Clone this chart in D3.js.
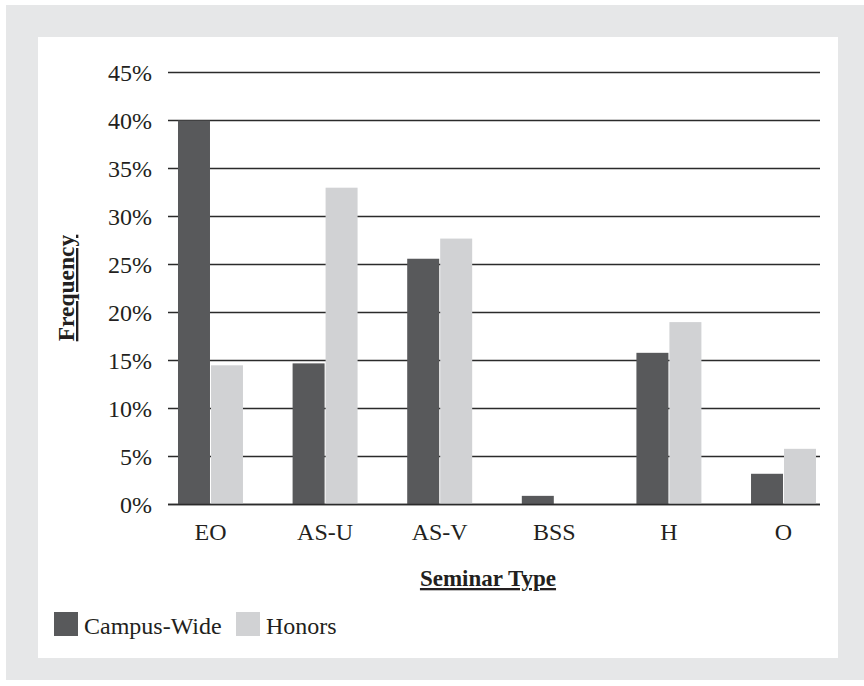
<!DOCTYPE html>
<html>
<head>
<meta charset="utf-8">
<script src="https://cdn.jsdelivr.net/npm/d3@7"></script>
<style>
  body { margin: 0; background: #fff; }
  text { font-family: "Liberation Serif", "DejaVu Serif", serif; fill: #231f20; }
</style>
</head>
<body>
<div id="chart"></div>
<script>
// seminar types on the x axis
var categories = ["EO", "AS-U", "AS-V", "BSS", "H", "O"];
var seriesNames = ["Campus-Wide", "Honors"];
var campusWide = [40.0, 14.7, 25.6, 0.9, 15.8, 3.2];
var honors = [14.5, 33.0, 27.7, 0, 19.0, 5.8];
var yTicks = [0, 5, 10, 15, 20, 25, 30, 35, 40, 45];
var colors = ["#58595b", "#d1d2d4"];

var svg = d3.select("#chart").append("svg")
  .attr("width", 864)
  .attr("height", 686);

// grey frame + white panel
svg.append("rect").attr("x", 6).attr("y", 5).attr("width", 858).attr("height", 675).attr("fill", "#e6e7e8");
svg.append("rect").attr("x", 38).attr("y", 37).attr("width", 800).attr("height", 621).attr("fill", "#fff");

var y = d3.scaleLinear().domain([0, 45]).range([504.5, 72.5]);

var x = d3.scaleBand()
  .domain(categories)
  .range([171, 823])
  .paddingInner(0.433)
  .paddingOuter(0.061);

var x1 = d3.scaleBand()
  .domain(seriesNames)
  .range([0, x.bandwidth()])
  .paddingInner(0.03);

//gridlines
svg.append("g").selectAll("line")
  .data(yTicks)
  .join("line")
  .attr("x1", 168).attr("x2", 820)
  .attr("y1", d => y(d)).attr("y2", d => y(d))
  .attr("stroke", "#2b2b2b")
  .attr("stroke-width", 1.5);

// y tick labels
svg.append("g").selectAll("text")
  .data(yTicks)
  .join("text")
  .attr("x", 152)
  .attr("y", d => y(d) + 8)
  .attr("text-anchor", "end")
  .style("font-size", "24px")
  .text(d => d + "%");

var rows = categories.map(function(c, i) {
  return [{cat: c, s: seriesNames[0], v: campusWide[i]}, {cat: c, s: seriesNames[1], v: honors[i]}];
});

svg.append("g").selectAll("g")
  .data(rows)
  .join("g")
  .attr("transform", d => "translate(" + x(d[0].cat) + ",0)")
  .selectAll("rect")
  .data(d => d)
  .join("rect")
  .attr("x", d => x1(d.s))
  .attr("width", x1.bandwidth())
  .attr("y", d => y(d.v))
  .attr("height", d => y(0) - y(d.v))
  .attr("fill", d => colors[seriesNames.indexOf(d.s)]);

// redraw base line on top
svg.append("line")
  .attr("x1", 168).attr("x2", 820)
  .attr("y1", y(0)).attr("y2", y(0))
  .attr("stroke", "#2b2b2b").attr("stroke-width", 1.5);

// category labels
svg.append("g").selectAll("text")
  .data(categories)
  .join("text")
  .attr("x", d => x(d) + x.bandwidth() / 2)
  .attr("y", 540)
  .attr("text-anchor", "middle")
  .style("font-size", "24px")
  .text(d => d);

// axis titles
svg.append("text")
  .attr("x", 488).attr("y", 586)
  .attr("text-anchor", "middle")
  .style("font-size", "23px")
  .style("font-weight", "bold")
  .style("text-decoration", "underline")
  .text("Seminar Type");

svg.append("text")
  .attr("transform", "translate(74,288) rotate(-90)")
  .attr("text-anchor", "middle")
  .style("font-size", "23.5px")
  .style("font-weight", "bold")
  .style("text-decoration", "underline")
  .text("Frequency");

// legend
var legX = [54, 236];
var leg = svg.append("g").selectAll("g")
  .data(seriesNames)
  .join("g")
  .attr("transform", (d, i) => "translate(" + legX[i] + ",612)");
leg.append("rect").attr("width", 24).attr("height", 24).attr("fill", (d, i) => colors[i]);
leg.append("text").attr("x", 30).attr("y", 22).style("font-size", "24px").text(d => d);
</script>
</body>
</html>
